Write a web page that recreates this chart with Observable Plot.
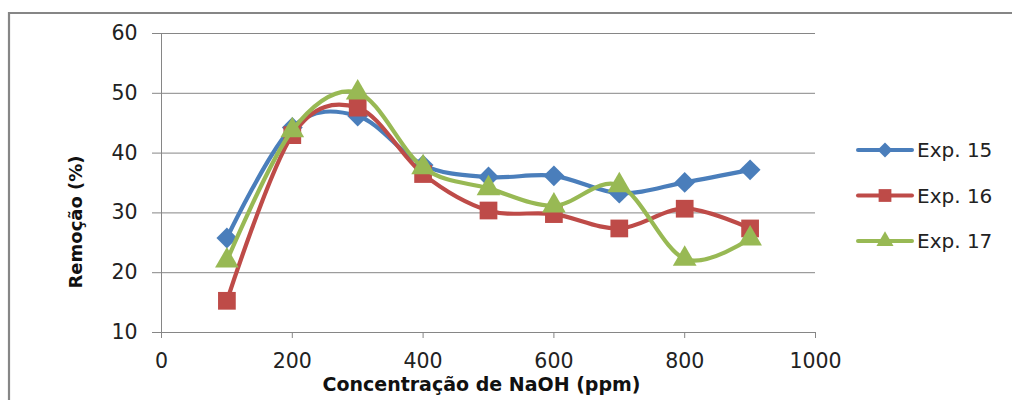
<!DOCTYPE html>
<html>
<head>
<meta charset="utf-8">
<script src="https://cdn.jsdelivr.net/npm/d3@7"></script>
<script src="https://cdn.jsdelivr.net/npm/@observablehq/plot@0.6"></script>
<style>
  html, body { margin: 0; padding: 0; background: #fff; }
  #chart { position: relative; width: 1012px; height: 400px; overflow: hidden; }
  #chart svg { font-family: "DejaVu Sans", sans-serif; }
  #chart svg g[aria-label$="tick label"] text { font-size: 20.5px !important; }
</style>
</head>
<body>
<div id="chart"></div>
<script>
// NaOH concentration (ppm)
const concentracao = [100, 200, 300, 400, 500, 600, 700, 800, 900];
// Removal (%) per experiment
const exp15 = [25.8, 44.3, 46.2, 38.0, 36.0, 36.2, 33.3, 35.1, 37.2];
const exp16 = [15.3, 43.0, 47.6, 36.5, 30.4, 29.8, 27.4, 30.7, 27.4];
const exp17 = [22.0, 43.8, 50.1, 37.6, 34.1, 31.2, 34.6, 22.3, 25.7];

const seriesNames = ["Exp. 15", "Exp. 16", "Exp. 17"];
const seriesValues = [exp15, exp16, exp17];
const colors = ["#4a7ebb", "#be4b48", "#98b954"];
const symbols = ["diamond2", "square", "triangle"];
const markerR = [9.4, 10, 8.8];

const xTicks = [0, 200, 400, 600, 800, 1000];
const yTicks = [10, 20, 30, 40, 50, 60];

const rows = seriesNames.map((name, i) =>
  concentracao.map((c, j) => ({serie: name, c, v: seriesValues[i][j]}))
);

const gray = "#868686";
const tickFont = 20.5;

const marks = [
  Plot.gridY(yTicks, {stroke: gray, strokeOpacity: 1, strokeWidth: 1}),
  Plot.ruleX([0], {stroke: gray, strokeWidth: 1}),
  Plot.axisY(yTicks, {tickSize: 9, tickPadding: 15, fontSize: tickFont, stroke: gray, color: "#222", label: null, tickFormat: d => String(d)}),
  Plot.axisX(xTicks, {tickSize: 6, tickPadding: 15, fontSize: tickFont, stroke: gray, color: "#222", label: null, tickFormat: d => String(d)}),
  Plot.text(["Remoção (%)"], {frameAnchor: "left", textAnchor: "middle", dx: -85, dy: 39, rotate: -90, fontSize: 18, fontWeight: "bold", fill: "#111"}),
  Plot.text(["Concentração de NaOH (ppm)"], {frameAnchor: "bottom", dx: -7, dy: 45, lineAnchor: "top", fontSize: 19, fontWeight: "bold", fill: "#111"})
];

// Smoothed line and markers for each experiment
rows.forEach((data, i) => {
  marks.push(Plot.line(data, {x: "c", y: "v", stroke: colors[i], strokeWidth: 4.2, curve: "cardinal", tension: 0}));
  marks.push(Plot.dot(data, {x: "c", y: "v", symbol: () => symbols[i], fill: colors[i], stroke: "none", r: markerR[i]}));
});

const chart = Plot.plot({
  width: 1012,
  height: 400,
  marginLeft: 161,
  marginRight: 197,
  marginTop: 33,
  marginBottom: 68,
  x: {domain: [0, 1000]},
  y: {domain: [10, 60]},
  symbol: {type: "identity"},
  style: {background: "#fff", overflow: "visible"},
  marks
});

document.getElementById("chart").appendChild(chart);

const svg = d3.select(chart);

// Outer chart frame
svg.append("path")
  .attr("d", "M9,400V13H1012")
  .attr("fill", "none")
  .attr("stroke", gray)
  .attr("stroke-width", 2.2);

// Legend
const legend = svg.append("g").attr("transform", "translate(858,150)");
seriesNames.forEach((name, i) => {
  const g = legend.append("g").attr("transform", `translate(0,${i * 45.5})`);
  g.append("line").attr("x1", 0).attr("x2", 54).attr("y1", 0).attr("y2", 0)
    .attr("stroke", colors[i]).attr("stroke-width", 4).attr("stroke-linecap", "round");
  const sym = {diamond2: d3.symbolDiamond2, square: d3.symbolSquare, triangle: d3.symbolTriangle}[symbols[i]];
  const rr = markerR[i] * 0.72;
  g.append("path").attr("transform", "translate(27,0)")
    .attr("d", d3.symbol(sym, rr * rr * Math.PI)())
    .attr("fill", colors[i]);
  g.append("text").attr("x", 59).attr("y", 0).attr("dy", "0.36em")
    .attr("text-anchor", "start")
    .attr("font-size", 20).attr("fill", "#222").text(name);
});
</script>
</body>
</html>
